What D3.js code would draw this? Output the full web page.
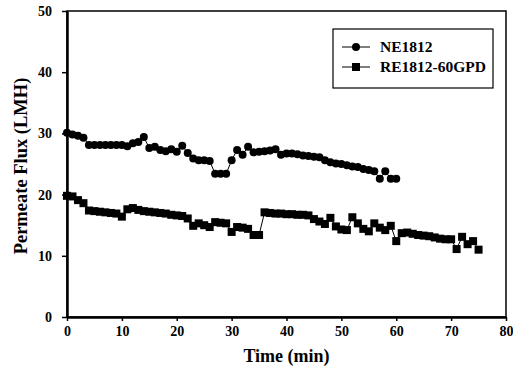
<!DOCTYPE html>
<html>
<head>
<meta charset="utf-8">
<script src="https://cdn.jsdelivr.net/npm/d3@7"></script>
<style>
  body { margin: 0; background: #fff; }
  svg text { font-family: "Liberation Serif", "Times New Roman", serif; font-weight: bold; fill: #000; }
</style>
</head>
<body>
<div id="chart"></div>
<script>

// NE1812, one reading per minute from t = 0
var neFlux = [30.1, 29.8, 29.6, 29.3, 28.1, 28.1, 28.1, 28.1, 28.1, 28.1, 28.1, 27.9, 28.4, 28.6, 29.4,
	27.6, 27.8, 27.3, 27.1, 27.4, 27.0, 28.0, 26.8, 25.9, 25.6, 25.6, 25.5, 23.4, 23.4, 23.4,
	25.6, 27.3, 26.5, 27.8, 26.9, 27.0, 27.1, 27.2, 27.4, 26.5, 26.7, 26.7, 26.6, 26.4, 26.3,
	26.2, 26.1, 25.6, 25.3, 25.1, 25.0, 24.8, 24.6, 24.5, 24.2, 24.0, 23.8, 22.6, 23.8, 22.6, 22.6];

// RE1812-60GPD, one reading per minute from t = 0
var reFlux = [19.8, 19.7, 19.1, 18.6, 17.4, 17.3, 17.2, 17.1, 17.0, 16.9, 16.4, 17.6, 17.8, 17.5, 17.3,
	17.2, 17.1, 17.0, 16.9, 16.7, 16.6, 16.5, 16.1, 14.9, 15.3, 15.0, 14.7, 15.5, 15.4, 15.3,
	13.9, 14.7, 14.6, 14.4, 13.4, 13.4, 17.1, 17.0, 16.9, 16.9, 16.8, 16.8, 16.7, 16.7, 16.6,
	16.0, 15.6, 15.2, 16.2, 14.8, 14.3, 14.2, 16.3, 15.3, 14.4, 14.0, 15.3, 14.6, 14.2, 14.9,
	12.4, 13.7, 13.8, 13.6, 13.4, 13.3, 13.2, 13.0, 12.8, 12.7, 12.7, 11.1, 13.1, 11.9, 12.4, 11.0];

var seriesNames = ["NE1812", "RE1812-60GPD"];
var xTicks = [0, 10, 20, 30, 40, 50, 60, 70, 80];
var yTicks = [0, 10, 20, 30, 40, 50];

var w = 513, h = 380;
var plotL = 67, plotR = 506, plotT = 11, plotB = 317;

var svg = d3.select("#chart")
	.append("svg")
	.attr("width", w)
	.attr("height", h);

var xScale = d3.scaleLinear().domain([0, 80]).range([plotL, plotR]);
var yScale = d3.scaleLinear().domain([0, 50]).range([plotB, plotT]);

//frame (top and right)
svg.append("rect")
	.attr("x", plotL)
	.attr("y", plotT)
	.attr("width", plotR - plotL)
	.attr("height", plotB - plotT)
	.attr("fill", "none")
	.attr("stroke", "#000")
	.attr("stroke-width", 1.5);

var xAxis = svg.append("g")
	.attr("transform", "translate(0," + plotB + ")")
	.call(d3.axisBottom(xScale).tickValues(xTicks).tickSize(4).tickSizeOuter(0).tickPadding(5).tickFormat(d3.format("d")));

var yAxis = svg.append("g")
	.attr("transform", "translate(" + plotL + ",0)")
	.call(d3.axisLeft(yScale).tickValues(yTicks).tickSize(5).tickSizeOuter(0).tickPadding(10).tickFormat(d3.format("d")));

[xAxis, yAxis].forEach(function(ax) {
	ax.select(".domain").attr("stroke-width", 2.5);
	ax.selectAll(".tick line").attr("stroke-width", 1.5);
	ax.selectAll(".tick text")
		.style("font-size", "14px")
		.style("font-family", "Liberation Serif")
		.style("font-weight", "bold");
});

svg.append("text")
	.attr("x", (plotL + plotR) / 2)
	.attr("y", 362)
	.attr("text-anchor", "middle")
	.style("font-size", "18px")
	.text("Time (min)");

svg.append("text")
	.attr("transform", "translate(27," + ((plotT + plotB) / 2 + 2) + ") rotate(-90)")
	.attr("text-anchor", "middle")
	.style("font-size", "18.5px")
	.text("Permeate Flux (LMH)");

var line = d3.line()
	.x(function(d, i) { return xScale(i); })
	.y(function(d) { return yScale(d); });

svg.append("path")
	.datum(neFlux)
	.attr("d", line)
	.attr("fill", "none")
	.attr("stroke", "#000")
	.attr("stroke-width", 1);

svg.append("path")
	.datum(reFlux)
	.attr("d", line)
	.attr("fill", "none")
	.attr("stroke", "#000")
	.attr("stroke-width", 1);

svg.selectAll("circle.ne")
	.data(neFlux)
	.enter()
	.append("circle")
	.attr("class", "ne")
	.attr("cx", function(d, i) { return xScale(i); })
	.attr("cy", d => yScale(d))
	.attr("r", 4)
	.attr("fill", "#000");

svg.selectAll("rect.re")
	.data(reFlux)
	.enter()
	.append("rect")
	.attr("class", "re")
	.attr("x", function(d, i) { return xScale(i) - 4; })
	.attr("y", d => yScale(d) - 4)
	.attr("width", 8)
	.attr("height", 8)
	.attr("fill", "#000");

//legend
var legend = svg.append("g").attr("transform", "translate(333,29)");

legend.append("rect")
	.attr("width", 160)
	.attr("height", 59)
	.attr("fill", "#fff")
	.attr("stroke", "#000")
	.attr("stroke-width", 1.2);

seriesNames.forEach(function(name, i) {
	var yy = 18 + i * 20;
	legend.append("line")
		.attr("x1", 9).attr("x2", 37)
		.attr("y1", yy).attr("y2", yy)
		.attr("stroke", "#000")
		.attr("stroke-width", 1);
	if (i == 0) {
		legend.append("circle").attr("cx", 23).attr("cy", yy).attr("r", 4).attr("fill", "#000");
	} else {
		legend.append("rect").attr("x", 19).attr("y", yy - 4).attr("width", 8).attr("height", 8).attr("fill", "#000");
	}
	legend.append("text")
		.attr("x", 47)
		.attr("y", yy + 5)
		.style("font-size", "15.5px")
		.text(name);
});

</script>
</body>
</html>
